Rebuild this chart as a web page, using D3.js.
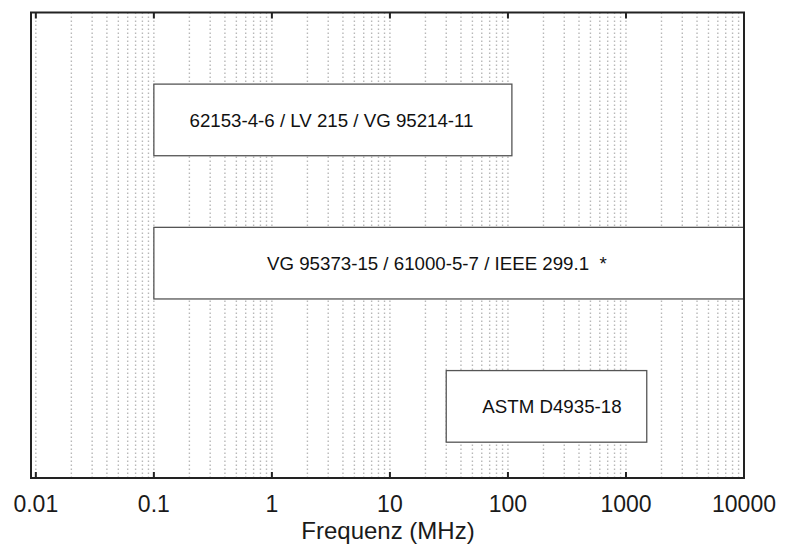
<!DOCTYPE html>
<html>
<head>
<meta charset="utf-8">
<script src="https://cdn.jsdelivr.net/npm/d3@7"></script>
<style>
  body { margin: 0; background: #fff; }
  svg { display: block; font-family: "Liberation Sans", Arial, Helvetica, sans-serif; }
</style>
</head>
<body>
<svg width="793" height="545"></svg>
<script>
// standards and their frequency ranges (MHz)
const labels = ["62153-4-6 / LV 215 / VG 95214-11", "VG 95373-15 / 61000-5-7 / IEEE 299.1  *", "ASTM D4935-18"];
const fStart = [0.1, 0.1, 30];
const fEnd = [108, 10000, 1500];
const rows = [3, 2, 1];
const labelAt = [3.2, 25, 236];
const tickValues = [0.01, 0.1, 1, 10, 100, 1000, 10000];
const tickLabels = ["0.01", "0.1", "1", "10", "100", "1000", "10000"];

const svg = d3.select("svg");
const x0 = 31, x1 = 744, y0 = 12.5, y1 = 478;

const x = d3.scaleLog().domain([0.0091, 10000]).range([x0, x1]);
const y = d3.scaleLinear().domain([0.5, 3.75]).range([y1, y0]);

// dotted grid at every 1..9 of each decade
const grid = [];
for (let e = -2; e < 4; e++) {
  for (let m = 1; m <= 9; m++) grid.push(m * Math.pow(10, e));
}
svg.append("g")
  .selectAll("line")
  .data(grid)
  .enter().append("line")
  .attr("x1", d => x(d)).attr("x2", d => x(d))
  .attr("y1", y0).attr("y2", y1)
  .attr("stroke", "#b8b8b8")
  .attr("stroke-width", 1.4)
  .attr("stroke-dasharray", "1.5,2.5");

// boxes
const boxes = svg.append("g")
  .selectAll("g")
  .data(labels)
  .enter().append("g");

boxes.append("rect")
  .attr("x", (d, i) => x(fStart[i]))
  .attr("y", (d, i) => y(rows[i] + 0.25))
  .attr("width", (d, i) => x(fEnd[i]) - x(fStart[i]))
  .attr("height", (d, i) => y(rows[i] - 0.25) - y(rows[i] + 0.25))
  .attr("fill", "#fff")
  .attr("stroke", "#555")
  .attr("stroke-width", 1.3);

boxes.append("text")
  .attr("x", (d, i) => x(labelAt[i]))
  .attr("y", (d, i) => y(rows[i]))
  .attr("dy", "0.36em")
  .attr("text-anchor", "middle")
  .attr("font-size", 18.7)
  .attr("fill", "#111")
  .style("white-space", "pre")
  .text(d => d);

// frame
svg.append("rect")
  .attr("x", x0).attr("y", y0)
  .attr("width", x1 - x0).attr("height", y1 - y0)
  .attr("fill", "none")
  .attr("stroke", "#222")
  .attr("stroke-width", 2);

// major ticks, inward on top and bottom
const ticks = svg.append("g");
ticks.selectAll("line.b")
  .data(tickValues)
  .enter().append("line")
  .attr("x1", d => x(d)).attr("x2", d => x(d))
  .attr("y1", y1).attr("y2", y1 - 6)
  .attr("stroke", "#222").attr("stroke-width", 2);
ticks.selectAll("line.t")
  .data(tickValues)
  .enter().append("line")
  .attr("x1", d => x(d)).attr("x2", d => x(d))
  .attr("y1", y0).attr("y2", y0 + 6)
  .attr("stroke", "#222").attr("stroke-width", 2);

svg.append("g")
  .selectAll("text")
  .data(tickValues)
  .enter().append("text")
  .attr("x", d => x(d))
  .attr("y", 512)
  .attr("text-anchor", "middle")
  .attr("font-size", 23)
  .attr("fill", "#1a1a1a")
  .text((d, i) => tickLabels[i]);

svg.append("text")
  .attr("x", 388)
  .attr("y", 539)
  .attr("text-anchor", "middle")
  .attr("font-size", 24)
  .attr("fill", "#1a1a1a")
  .text("Frequenz (MHz)");
</script>
</body>
</html>
